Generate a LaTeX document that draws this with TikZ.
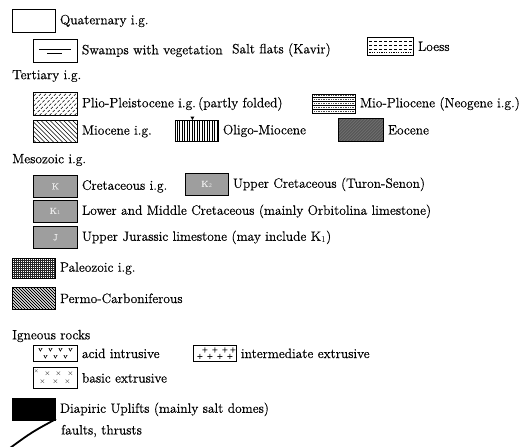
\documentclass[tikz,border=0pt]{standalone}
\usepackage{fontspec}
\setmainfont{Latin Modern Roman}[FakeBold=0.4]
\usetikzlibrary{positioning}
\tikzset{
  unitbox/.style={draw,line width=0.8pt,inner sep=0pt,anchor=north west,
    minimum width=43pt,minimum height=22pt},
  lbl/.style={right=3pt of #1,inner sep=1pt},
  % fill patterns, drawn inside the box
  plio/.style={path picture={
    \foreach \k in {-24,-19,...,46}
      \draw[line width=0.5pt,dash pattern=on 3pt off 1.6pt]
        ([xshift=\k pt]path picture bounding box.south west) -- ++(45:36pt);}},
  miocene/.style={path picture={
    \foreach \k in {-24,-19.5,...,46}
      \draw[line width=0.6pt]
        ([xshift=\k pt]path picture bounding box.north west) -- ++(-45:36pt);}},
  permo/.style={path picture={
    \foreach \k in {-24,-21,...,46}
      \draw[line width=0.8pt]
        ([xshift=\k pt]path picture bounding box.north west) -- ++(-45:36pt);}},
  oligo/.style={path picture={
    \foreach \k in {1.5,4,...,44}
      \draw[line width=0.7pt]
        ([xshift=\k pt]path picture bounding box.south west) --
        ([xshift=\k pt]path picture bounding box.north west);}},
  miopli/.style={path picture={
    \foreach \k in {4,8,...,16}
      \draw[line width=0.3pt]
        ([yshift=\k pt]path picture bounding box.south west) --
        ([yshift=\k pt]path picture bounding box.south east);
    \foreach \k in {2,6,...,18}
      \draw[line width=0.3pt,black!70,dash pattern=on 0.5pt off 1.2pt]
        ([yshift=\k pt]path picture bounding box.south west) --
        ([yshift=\k pt]path picture bounding box.south east);}},
  eocene/.style={fill=black!50,path picture={
    \foreach \k in {-24,-22.5,...,46}
      \draw[line width=0.3pt,black!75]
        ([xshift=\k pt]path picture bounding box.south west) -- ++(45:36pt);}},
  meso/.style={fill=black!38,text=black!8,font=\fontsize{9}{9}\selectfont},
  paleo/.style={path picture={
    \foreach \k in {0,2,...,44}
      \draw[line width=0.35pt,black!85]
        ([xshift=\k pt]path picture bounding box.south west) --
        ([xshift=\k pt]path picture bounding box.north west);
    \foreach \k in {0,2,...,22}
      \draw[line width=0.35pt,black!85]
        ([yshift=\k pt]path picture bounding box.south west) --
        ([yshift=\k pt]path picture bounding box.south east);}},
  loess/.style={path picture={
    \foreach \k in {3.5,7.5,11.5}
      \draw[line width=0.5pt,dash pattern=on 3pt off 2pt]
        ([yshift=-\k pt,xshift=2pt]path picture bounding box.north west) --
        ([yshift=-\k pt]path picture bounding box.north east);
    \draw[line width=0.5pt,dash pattern=on 1.2pt off 1.2pt]
      ([yshift=-15pt,xshift=2pt]path picture bounding box.north west) --
      ([yshift=-15pt]path picture bounding box.north east);}},
  symb/.style={font=\fontsize{7}{7}\selectfont,inner sep=0pt},
}
\begin{document}
\begin{tikzpicture}[x=1pt,y=-1pt,font=\fontsize{13.5}{15}\selectfont]
  \useasboundingbox (0,0) rectangle (530,447);

  % Quaternary
  \node[unitbox,minimum height=23pt] (quat) at (12,9) {};
  \node[lbl=quat] (tquat) {Quaternary i.g.};
  \node[unitbox,minimum width=44pt,minimum height=23pt] (swamp) at (33,39) {};
  \draw[line width=0.7pt] ([shift={(-16pt,1.5pt)}]swamp.center) -- ([shift={(16pt,1.5pt)}]swamp.center);
  \draw[line width=0.7pt] ([shift={(-8pt,-2.5pt)}]swamp.center) -- ([shift={(7pt,-2.5pt)}]swamp.center);
  \node[lbl=swamp] (tswamp) {Swamps with vegetation};
  \node[anchor=west,inner sep=1pt] (tsalt) at (231,50) {Salt flats (Kavir)};
  \node[unitbox,loess,minimum width=46pt,minimum height=18pt] (loessbox) at (367,37) {};
  \node[lbl=loessbox] (tloess) {Loess};

  % Tertiary
  \node[anchor=west,inner sep=1pt] (htert) at (11,76) {Tertiary i.g.};
  \node[unitbox,plio,minimum width=44pt,minimum height=23pt] (pliobox) at (33,92) {};
  \node[lbl=pliobox] (tplio) {Plio-Pleistocene i.g.\,(partly folded)};
  \node[unitbox,miopli,minimum height=19pt] (mioplibox) at (312,94) {};
  \node[lbl=mioplibox] (tmiopli) {Mio-Pliocene (Neogene i.g.)};
  \node[unitbox,miocene,minimum width=44pt] (miocbox) at (33,120) {};
  \node[lbl=miocbox] (tmioc) {Miocene i.g.};
  \node[unitbox,oligo,minimum height=21pt] (oligobox) at (175,120) {};
  \fill ([xshift=-4.5pt]oligobox.north) -- ++(-2pt,3.5pt) -- ++(4pt,0pt) -- cycle;
  \node[lbl=oligobox] (toligo) {Oligo-Miocene};
  \node[unitbox,eocene,minimum width=45pt,minimum height=23pt] (eocbox) at (338,118) {};
  \node[lbl=eocbox] (teoc) {Eocene};

  % Mesozoic
  \node[anchor=west,inner sep=1pt] (hmeso) at (11,160) {Mesozoic i.g.};
  \node[unitbox,meso,minimum width=44pt] (kbox) at (33,175) {K};
  \node[lbl=kbox] (tk) {Cretaceous i.g.};
  \node[unitbox,meso] (ktwo) at (185,173) {K$_2$};
  \node[lbl=ktwo] (tktwo) {Upper Cretaceous (Turon-Senon)};
  \node[unitbox,meso,minimum width=44pt] (kone) at (33,200) {K$_1$};
  \node[lbl=kone] (tkone) {Lower and Middle Cretaceous (mainly Orbitolina limestone)};
  \node[unitbox,meso,minimum width=44pt] (jbox) at (33,226) {J};
  \node[lbl=jbox] (tj) {Upper Jurassic limestone (may include K$_1$)};

  % Paleozoic
  \node[unitbox,paleo,minimum height=20pt] (paleobox) at (12,258) {};
  \node[lbl=paleobox] (tpaleo) {Paleozoic i.g.};
  \node[unitbox,permo] (permobox) at (12,287) {};
  \node[lbl=permobox] (tpermo) {Permo-Carboniferous};

  % Igneous rocks
  \node[anchor=west,inner sep=1pt] (higne) at (11,336) {Igneous rocks};
  \node[unitbox,minimum width=44pt,minimum height=16pt] (acid) at (33,345) {};
  \foreach \dx in {-15,-5,5,15}
    \node[symb] at ([shift={(\dx pt,3.5pt)}]acid.center) {v};
  \foreach \dx in {-10,0,10}
    \node[symb] at ([shift={(\dx pt,-3.5pt)}]acid.center) {v};
  \node[lbl=acid] (tacid) {acid intrusive};
  \node[unitbox,minimum height=16pt] (inter) at (193,345) {};
  \foreach \dx in {-10,0,10,18}
    \node[symb] at ([shift={(\dx pt,3.5pt)}]inter.center) {+};
  \foreach \dx in {-15,-5,5,15}
    \node[symb] at ([shift={(\dx pt,-3pt)}]inter.center) {+};
  \node[lbl=inter] (tinter) {intermediate extrusive};
  \node[unitbox,minimum width=44pt,minimum height=21pt] (basic) at (33,367) {};
  \node[symb,font=\fontsize{5}{5}\selectfont] at ([shift={(-19pt,7pt)}]basic.center) {$\times$};
  \foreach \dx in {-8,3,15}
    \node[symb] at ([shift={(\dx pt,4pt)}]basic.center) {$\times$};
  \foreach \dx in {-13,0,12}
    \node[symb] at ([shift={(\dx pt,-4pt)}]basic.center) {$\times$};
  \node[lbl=basic] (tbasic) {basic extrusive};

  % Diapirs and faults
  \node[unitbox,fill=black] (diap) at (12,398) {};
  \node[lbl=diap] (tdiap) {Diapiric Uplifts (mainly salt domes)};
  \coordinate (fa) at (10,448);
  \coordinate (fb) at (56,419);
  \draw[line width=1.8pt] (fa) .. controls (32,432) .. (fb);
  \node[anchor=west,inner sep=1pt] (tfault) at (60,431) {faults, thrusts};
\end{tikzpicture}
\end{document}
